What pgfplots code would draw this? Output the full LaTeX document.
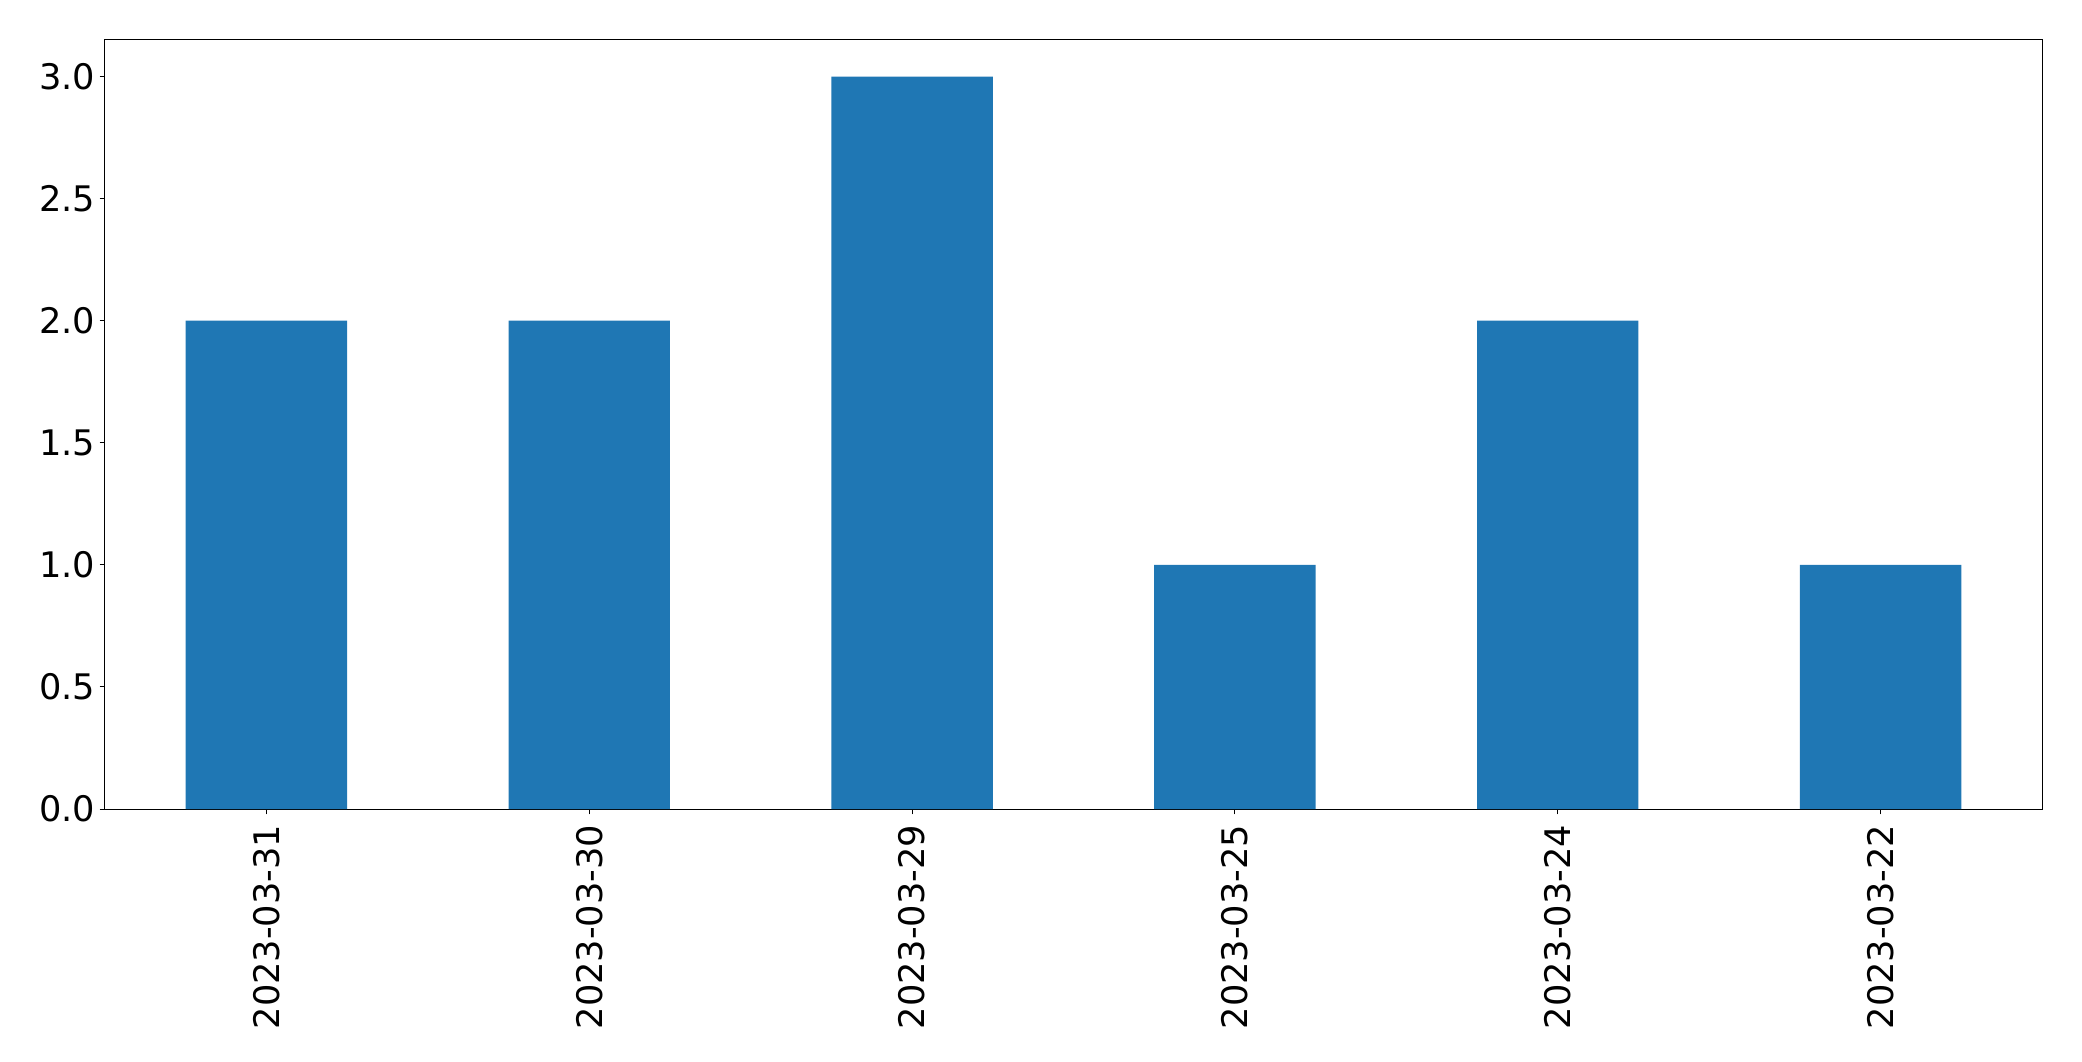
\documentclass[border=0pt]{standalone}
\usepackage{pgfplots}
\pgfplotsset{compat=1.18}
\usepackage{fontspec}
\setmainfont{DejaVu Sans}
\definecolor{mplblue}{HTML}{1F77B4}
\begin{document}
\begin{tikzpicture}
\useasboundingbox (-52.5pt,-126pt) rectangle (988.5pt,404.5pt);
\begin{axis}[
  at={(0,0)}, anchor=south west,
  scale only axis,
  width=968.5pt, height=384.5pt,
  xmin=-0.5, xmax=5.5,
  ymin=0, ymax=3.15,
  xtick={0,1,2,3,4,5},
  xticklabels={2023-03-31,2023-03-30,2023-03-29,2023-03-25,2023-03-24,2023-03-22},
  ytick={0,0.5,1,1.5,2,2.5,3},
  yticklabel style={/pgf/number format/fixed,/pgf/number format/precision=1,/pgf/number format/fixed zerofill},
  /pgf/number format/assume math mode=true,
  tick label style={font=\fontsize{17.6}{21}\selectfont},
  xticklabel style={rotate=90, anchor=east, inner sep=0pt, xshift=-5pt},
  yticklabel style={inner sep=0pt, xshift=-2pt},
  tick align=outside,
  major tick length=2.7pt,
  tick style={black, line width=0.5pt},
  axis line style={line width=0.5pt},
  xtick pos=bottom, ytick pos=left,
  ybar, bar width=0.5,
]
\addplot[fill=mplblue, draw=none] coordinates {(0,2) (1,2) (2,3) (3,1) (4,2) (5,1)};
\end{axis}
\end{tikzpicture}
\end{document}
